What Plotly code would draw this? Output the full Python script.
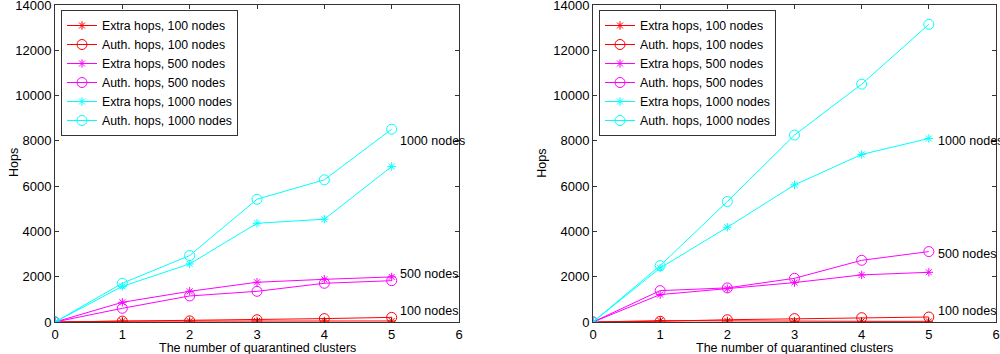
import plotly.graph_objects as go
from plotly.subplots import make_subplots

x = [0, 1, 2, 3, 4, 5]

# Left panel
L_extra_100 = [0, 40, 40, 45, 45, 45]
L_auth_100 = [0, 40, 50, 100, 150, 205]
L_extra_500 = [0, 870, 1355, 1755, 1885, 1990]
L_auth_500 = [0, 605, 1150, 1355, 1710, 1825]
L_extra_1000 = [0, 1575, 2565, 4360, 4540, 6865]
L_auth_1000 = [0, 1710, 2935, 5420, 6280, 8515]

# Right panel
R_extra_100 = [0, 60, 50, 30, 30, 30]
R_auth_100 = [0, 30, 100, 150, 190, 220]
R_extra_500 = [0, 1210, 1475, 1740, 2080, 2195]
R_auth_500 = [0, 1385, 1505, 1930, 2725, 3110]
R_extra_1000 = [0, 2385, 4185, 6055, 7400, 8105]
R_auth_1000 = [0, 2490, 5320, 8255, 10505, 13145]

names = ["Extra hops, 100 nodes", "Auth. hops, 100 nodes",
         "Extra hops, 500 nodes", "Auth. hops, 500 nodes",
         "Extra hops, 1000 nodes", "Auth. hops, 1000 nodes"]
colors = ["#ff0000", "#ff0000", "#ff00ff", "#ff00ff", "#00ffff", "#00ffff"]
symbols = ["asterisk-open", "circle-open"] * 3
msizes = [7, 10] * 3

left_series = [L_extra_100, L_auth_100, L_extra_500, L_auth_500, L_extra_1000, L_auth_1000]
right_series = [R_extra_100, R_auth_100, R_extra_500, R_auth_500, R_extra_1000, R_auth_1000]

label_texts = ["1000 nodes", "500 nodes", "100 nodes"]
L_label_y = [8000, 2100, 500]
R_label_y = [8000, 3000, 500]
label_x = 5.1

FONT = "Liberation Sans, Arial, sans-serif"

fig = make_subplots(rows=1, cols=2)

for col, series, leg in [(1, left_series, "legend"), (2, right_series, "legend2")]:
    for n, ys, c, s, ms in zip(names, series, colors, symbols, msizes):
        fig.add_trace(go.Scatter(
            x=x, y=ys, name=n, mode="lines+markers",
            line=dict(color=c, width=1),
            marker=dict(symbol=s, size=ms, color=c, line=dict(color=c, width=1)),
            legend=leg,
        ), row=1, col=col)

for xr, yr, ly in [("x", "y", L_label_y), ("x2", "y2", R_label_y)]:
    for t, yv in zip(label_texts, ly):
        fig.add_annotation(x=label_x, y=yv, xref=xr, yref=yr, text=t, showarrow=False,
                           xanchor="left", yanchor="middle",
                           font=dict(family=FONT, size=12.5, color="black"))

ydom = [1 - 322 / 354, 1 - 5 / 354]
axis_common = dict(showgrid=False, zeroline=False, showline=True, linecolor="#333333",
                   linewidth=1, mirror="ticks", ticks="inside", ticklen=4,
                   tickcolor="#333333", automargin=False, ticklabeloverflow="allow",
                   tickfont=dict(family=FONT, size=13, color="black"))

fig.update_xaxes(range=[0, 6], dtick=1, **axis_common)
fig.update_yaxes(range=[0, 14000], dtick=2000, tickformat="d", **axis_common)
fig.update_layout(
    xaxis=dict(domain=[0.055, 0.459]),
    xaxis2=dict(domain=[0.593, 0.996]),
    yaxis=dict(domain=ydom),
    yaxis2=dict(domain=ydom),
)

for xc, yc in [(0.257, 347.5), (0.794, 347.5)]:
    fig.add_annotation(x=xc, y=1 - yc / 354, xref="paper", yref="paper",
                       text="The number of quarantined clusters", showarrow=False,
                       xanchor="center", yanchor="middle",
                       font=dict(family=FONT, size=12.5, color="black"))
for xc in [0.014, 0.5417]:
    fig.add_annotation(x=xc, y=1 - 163 / 354, xref="paper", yref="paper",
                       text="Hops", showarrow=False, textangle=-90,
                       xanchor="center", yanchor="middle",
                       font=dict(family=FONT, size=12.5, color="black"))

legend_common = dict(xanchor="left", yanchor="top", bgcolor="white",
                     bordercolor="#333333", borderwidth=1,
                     font=dict(family=FONT, size=12.3, color="black"),
                     tracegroupgap=0, itemwidth=30)
fig.update_layout(
    legend=dict(x=0.061, y=1 - 10 / 354, **legend_common),
    legend2=dict(x=0.599, y=1 - 10 / 354, **legend_common),
    width=1000, height=354,
    margin=dict(l=0, r=0, t=0, b=0),
    plot_bgcolor="white", paper_bgcolor="white",
    showlegend=True,
)

fig.write_html("out.html",
               config={"displayModeBar": False},
               post_script="document.body.style.margin='0';document.body.style.overflow='hidden';")
